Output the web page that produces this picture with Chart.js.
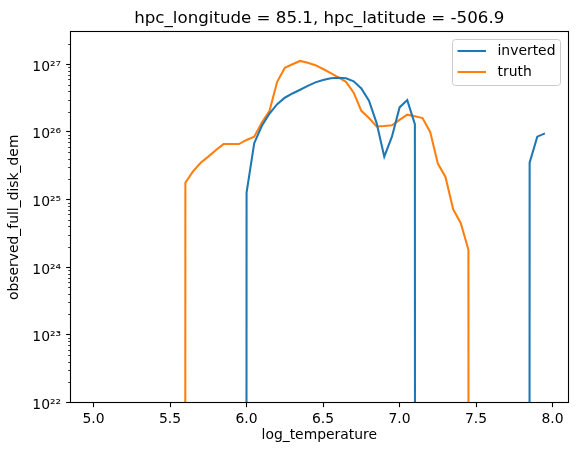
<!DOCTYPE html>
<html>
<head>
<meta charset="UTF-8">
<title>observed_full_disk_dem</title>
<script src="https://cdn.jsdelivr.net/npm/chart.js"></script>
<style>body { margin: 0; background: #fff; }</style>
</head>
<body>
<canvas id="demChart" width="576" height="455"></canvas>
<script>
// x values (log_temperature)
var logTemperature = [
    5.00, 5.05, 5.10, 5.15, 5.20, 5.25, 5.30, 5.35, 5.40, 5.45,
    5.50, 5.55, 5.60, 5.65, 5.70, 5.75, 5.80, 5.85, 5.90, 5.95,
    6.00, 6.05, 6.10, 6.15, 6.20, 6.25, 6.30, 6.35, 6.40, 6.45,
    6.50, 6.55, 6.60, 6.65, 6.70, 6.75, 6.80, 6.85, 6.90, 6.95,
    7.00, 7.05, 7.10, 7.15, 7.20, 7.25, 7.30, 7.35, 7.40, 7.45,
    7.50, 7.55, 7.60, 7.65, 7.70, 7.75, 7.80, 7.85, 7.90, 7.95
];

// observed_full_disk_dem, inverted
var inverted = [
    0, 0, 0, 0, 0, 0, 0, 0, 0, 0,
    0, 0, 0, 0, 0, 0, 0, 0, 0, 0,
    1.26e25, 6.8e25, 1.23e26, 1.87e26, 2.57e26, 3.2e26, 3.7e26, 4.2e26, 4.8e26, 5.4e26,
    5.85e26, 6.2e26, 6.3e26, 6.2e26, 5.6e26, 4.4e26, 2.9e26, 1.35e26, 4.3e25, 8.5e25,
    2.3e26, 2.95e26, 1.3e26, 0, 0, 0, 0, 0, 0, 0,
    0, 0, 0, 0, 0, 0, 0, 3.5e25, 8.5e25, 9.5e25
];

// observed_full_disk_dem, truth
var truth = [
    0, 0, 0, 0, 0, 0, 0, 0, 0, 0,
    0, 0, 1.77e25, 2.6e25, 3.5e25, 4.3e25, 5.4e25, 6.6e25, 6.6e25, 6.6e25,
    7.6e25, 8.5e25, 1.38e26, 2.05e26, 5.5e26, 8.9e26, 1.0e27, 1.12e27, 1.05e27, 9.7e26,
    8.5e26, 7.4e26, 6.4e26, 5.5e26, 3.8e26, 2.05e26, 1.6e26, 1.2e26, 1.22e26, 1.25e26,
    1.5e26, 1.8e26, 1.7e26, 1.6e26, 1.0e26, 3.4e25, 2.15e25, 7.2e24, 4.45e24, 1.8e24,
    0, 0, 0, 0, 0, 0, 0, 0, 0, 0
];

var xTicks = [5.0, 5.5, 6.0, 6.5, 7.0, 7.5, 8.0];
var yTickExponents = [22, 23, 24, 25, 26, 27];

var supDigits = { '0': '⁰', '1': '¹', '2': '²', '3': '³', '4': '⁴', '5': '⁵', '6': '⁶', '7': '⁷', '8': '⁸', '9': '⁹', '-': '⁻' };
function powLabel(e) {
    return '10' + String(e).split('').map(function (c) { return supDigits[c]; }).join('');
}

// like matplotlib's log clipping: values <= 0 fall far below the axis
function toPoints(values) {
    return logTemperature.map(function (t, i) {
        return { x: t, y: values[i] > 0 ? values[i] : 1e-300 };
    });
}

var FONT = 'DejaVu Sans';
var FS = 13.9;
Chart.defaults.font.family = FONT;
Chart.defaults.font.size = FS;
Chart.defaults.color = '#000';

// minor ticks, spines and the legend box drawn on top of the lines
var framePlugin = {
    id: 'framePlugin',
    afterDatasetsDraw: function (chart) {
        var ctx = chart.ctx, a = chart.chartArea, y = chart.scales.y;
        ctx.save();
        // minor ticks on the log axis
        ctx.strokeStyle = '#000';
        ctx.lineWidth = 0.8;
        yTickExponents.forEach(function (e) {
            for (var m = 2; m <= 9; m++) {
                var v = m * Math.pow(10, e);
                if (v > y.max) continue;
                var py = Math.round(y.getPixelForValue(v)) + 0.5;
                ctx.beginPath();
                ctx.moveTo(a.left - 2.8, py);
                ctx.lineTo(a.left, py);
                ctx.stroke();
            }
        });
        // spines
        ctx.lineWidth = 1.1;
        ctx.strokeRect(Math.round(a.left) - 0.5, Math.round(a.top) - 0.5,
            Math.round(a.right) - Math.round(a.left) + 1, Math.round(a.bottom) - Math.round(a.top) + 1);

        // legend
        var bx = 452.5, by = 39.5, bw = 108, bh = 46;
        ctx.beginPath();
        ctx.roundRect(bx, by, bw, bh, 3);
        ctx.fillStyle = 'rgba(255,255,255,0.8)';
        ctx.fill();
        ctx.strokeStyle = '#cccccc';
        ctx.lineWidth = 1;
        ctx.stroke();
        ctx.font = FS + 'px "' + FONT + '"';
        ctx.textBaseline = 'middle';
        ctx.textAlign = 'left';
        chart.data.datasets.forEach(function (ds, i) {
            var ly = 51 + i * 21;
            ctx.strokeStyle = ds.borderColor;
            ctx.lineWidth = ds.borderWidth;
            ctx.beginPath();
            ctx.moveTo(457.5, ly);
            ctx.lineTo(486, ly);
            ctx.stroke();
            ctx.fillStyle = '#000';
            ctx.fillText(ds.label, 497.5, ly);
        });
        ctx.restore();
    }
};

var config = {
    type: 'line',
    data: {
        datasets: [{
            label: 'inverted',
            data: toPoints(inverted),
            borderColor: '#1f77b4',
            borderWidth: 2.08,
            pointRadius: 0,
            tension: 0,
            fill: false,
            clip: 0
        }, {
            label: 'truth',
            data: toPoints(truth),
            borderColor: '#ff7f0e',
            borderWidth: 2.08,
            pointRadius: 0,
            tension: 0,
            fill: false,
            clip: 0
        }]
    },
    options: {
        responsive: false,
        animation: false,
        devicePixelRatio: 1,
        events: [],
        layout: { padding: { top: 0, right: 8.5, left: 0, bottom: 0 } },
        plugins: {
            legend: { display: false },
            tooltip: { enabled: false },
            title: {
                display: true,
                fullSize: false,
                text: 'hpc_longitude = 85.1, hpc_latitude = -506.9',
                font: { size: 16.67, weight: 'normal' },
                color: '#000',
                padding: { top: 8.6, bottom: 3.7 }
            }
        },
        scales: {
            x: {
                type: 'linear',
                min: 4.8525,
                max: 8.0975,
                afterBuildTicks: function (s) {
                    s.ticks = xTicks.map(function (v) { return { value: v }; });
                },
                afterFit: function (s) { s.height = 52.7; },
                ticks: {
                    autoSkip: false,
                    maxRotation: 0,
                    padding: 4.2,
                    callback: function (v) { return Number(v).toFixed(1); }
                },
                grid: { drawOnChartArea: false, drawTicks: true, tickLength: 4.86, tickWidth: 1.1, tickColor: '#000' },
                border: { display: false },
                title: { display: true, text: 'log_temperature', padding: { top: 0, bottom: 11.5 } }
            },
            y: {
                type: 'logarithmic',
                min: 1e22,
                max: 2.97e27,
                afterBuildTicks: function (s) {
                    s.ticks = yTickExponents.map(function (e) { return { value: Math.pow(10, e) }; });
                },
                afterFit: function (s) { s.width = 71; },
                ticks: {
                    autoSkip: false,
                    padding: 5,
                    labelOffset: 3,
                    callback: function (v) { return powLabel(Math.round(Math.log10(v))); }
                },
                grid: { drawOnChartArea: false, drawTicks: true, tickLength: 4.86, tickWidth: 1.1, tickColor: '#000' },
                border: { display: false },
                title: { display: true, text: 'observed_full_disk_dem', padding: { top: 5.7, bottom: 0 } }
            }
        }
    },
    plugins: [framePlugin]
};

var demChart = new Chart(document.getElementById('demChart'), config);
</script>
</body>
</html>
